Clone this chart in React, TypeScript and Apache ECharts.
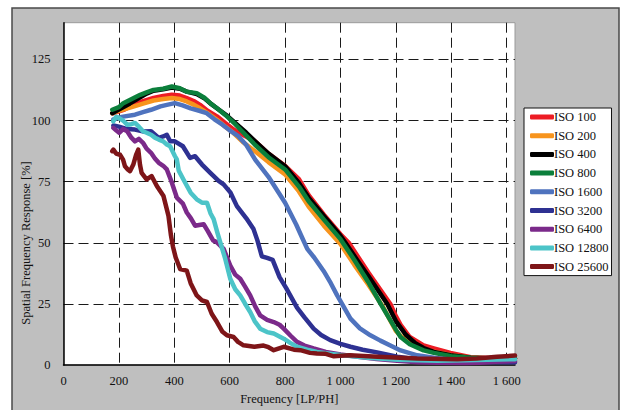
import React, { useEffect, useRef } from "react";
import * as echarts from "echarts";

const seriesNames = ["ISO 100", "ISO 200", "ISO 400", "ISO 800", "ISO 1600", "ISO 3200", "ISO 6400", "ISO 12800", "ISO 25600"];
const seriesColors = ["#ED1C24", "#F7941D", "#000000", "#0B7F3B", "#4F73BE", "#2E3192", "#7B2A8A", "#4CC4C8", "#7E1518"];

const iso100 = [[180,103],[220,104.5],[252,106.4],[290,108],[325,109.2],[360,110],[391,110.5],[420,110.2],[445,109.2],[470,108],[493,106.4],[520,104],[554,101.7],[584,99],[614,96.3],[650,94],[692,91.5],[740,86.5],[800,81.5],[850,76],[885,69.5],[940,61.5],[1000,53.5],[1030,50],[1100,38],[1180,25],[1200,20],[1217,16.5],[1250,11.5],[1300,8],[1337,6.8],[1397,5],[1470,3.2],[1550,2.8],[1630,2.8]];
const iso200 = [[176,103],[200,104],[252,105.7],[290,107],[325,108.2],[360,108.8],[391,109.2],[420,108.8],[445,107.8],[470,106.5],[493,105],[520,103],[554,100.3],[584,97.5],[614,94.9],[650,91],[692,87.4],[740,83],[800,78],[850,71],[885,64.8],[940,57],[1000,49.5],[1050,41],[1100,33],[1150,24.5],[1200,14],[1217,12],[1250,9],[1300,6.5],[1337,5.5],[1400,4],[1470,3],[1550,2.7],[1630,2.7]];
const iso400 = [[176,103],[200,104.5],[240,107],[277,109.5],[300,111],[325,112.2],[360,112.8],[391,113.5],[420,113],[445,111.8],[481,110.8],[510,109],[530,107],[560,104.5],[590,102],[630,98],[660,95],[692,91.5],[740,86.5],[800,81.3],[850,74.5],[885,68.5],[940,61],[1000,52.9],[1018,50],[1060,43],[1100,36.5],[1169,25],[1200,18],[1235,12.5],[1270,9],[1300,7],[1337,5.4],[1397,4],[1470,3],[1550,2.7],[1630,2.7]];
const iso800 = [[176,104.4],[200,105.5],[216,107.1],[250,109],[277,110.5],[300,111.5],[325,112.5],[360,113],[391,113.9],[420,113.2],[445,111.8],[481,111.2],[510,109.2],[530,107.1],[560,104.5],[590,101.7],[620,98.5],[650,95],[692,90],[740,85],[800,80],[850,73],[885,67],[940,59.5],[1000,51.5],[1050,43],[1100,34],[1145,25],[1200,14.5],[1217,11.5],[1250,8.5],[1300,6],[1337,5],[1400,3.6],[1470,3],[1550,2.7],[1630,2.7]];
const iso1600 = [[180,100.5],[210,101.5],[258,102.4],[290,103.5],[316,104.4],[350,105.8],[373,106.4],[402,107.1],[430,106.2],[459,105],[490,104],[517,103],[545,100.5],[574,98.3],[600,96],[631,93.6],[660,90],[692,84],[740,77],[800,66.4],[840,57.5],[860,52.5],[880,47.5],[905,44],[939,38.5],[965,33.5],[988,28.5],[1036,19],[1070,15],[1108,12.2],[1144,10],[1180,8],[1217,6],[1277,4],[1337,3],[1400,2.2],[1492,1.5],[1630,1.4]];
const iso3200 = [[180,98],[200,97.5],[230,96.5],[258,96.3],[290,95.5],[316,95.6],[344,92.9],[360,93.5],[373,94.2],[385,91.5],[402,91.5],[431,89.5],[457,84.7],[475,85.4],[500,82],[530,78.6],[560,75.3],[578,73.9],[603,70.5],[626,65],[660,60],[686,55.6],[700,51],[716,44.5],[735,43.8],[755,43],[780,36],[804,31.5],[843,23.5],[870,19.5],[903,14.9],[930,12.3],[963,10.2],[1000,8.7],[1036,7.5],[1080,6.3],[1132,5.2],[1205,3.4],[1280,2.3],[1349,1.6],[1450,1.3],[1630,1.2]];
const iso6400 = [[180,97],[190,96],[201,95],[215,96.5],[230,95.6],[245,93],[258,91.5],[272,92.5],[287,90.9],[300,88.5],[316,86.8],[330,84.5],[344,82.7],[360,81.5],[373,80],[390,75],[409,68.5],[431,66],[445,62.4],[460,60],[475,57],[490,57.3],[506,57.6],[520,55],[540,51],[554,50.2],[578,47.5],[602,40.7],[620,37],[638,35.3],[656,32],[674,28.5],[692,24],[710,20.3],[735,18.5],[759,17.6],[780,16.5],[795,14.9],[820,12],[843,9.5],[870,8],[903,6.8],[947,5.4],[1000,4.3],[1062,3.4],[1130,2.5],[1205,1.8],[1280,1.2],[1349,1],[1450,0.9],[1500,1],[1560,1.4],[1630,1.7]];
const iso12800 = [[180,99.7],[190,101.5],[201,101],[215,100],[230,98.3],[245,98.5],[258,99],[272,97.5],[287,95.6],[300,95],[316,94.2],[330,93],[344,92.2],[360,91.5],[373,90.2],[385,89.5],[402,85.5],[409,84.1],[416,79.5],[433,75.9],[459,70.5],[481,67.8],[500,66.4],[518,66.4],[531,62],[542,59.7],[556,54],[566,50.2],[584,43.4],[602,35.3],[620,31],[638,28.5],[656,25],[674,21.7],[690,18],[710,14.9],[735,13.5],[759,12.9],[795,10.8],[820,9],[843,7.5],[880,6.3],[915,5.4],[960,4.7],[1000,4.1],[1100,3],[1205,2.2],[1349,1.8],[1450,2],[1630,2.4]];
const iso25600 = [[176,87.5],[180,88.1],[190,86.5],[204,86],[215,84],[222,81.3],[232,80],[240,79.3],[252,82],[262,86],[270,88.1],[276,82],[282,78.6],[300,75.9],[318,77.3],[337,73.2],[361,69.1],[379,61],[388,53],[395,48.5],[405,44],[421,39.3],[445,38.6],[459,33.5],[481,28.5],[500,26.5],[518,25.8],[535,21],[554,17.6],[574,13.6],[590,12.2],[614,11.5],[630,9.5],[650,8.1],[689,7.5],[722,8],[740,7.3],[759,6.1],[795,7.5],[832,6.3],[855,6.1],[890,5],[915,4.7],[947,4.6],[976,3.6],[1000,3.8],[1033,4],[1134,3.4],[1277,2.7],[1421,2.4],[1492,2.7],[1565,3.4],[1630,3.9]];

const seriesData = [iso100, iso200, iso400, iso800, iso1600, iso3200, iso6400, iso12800, iso25600];

const xMin = 0;
const xMax = 1630;
const xInterval = 200;
const yMin = 0;
const yMax = 140;
const yInterval = 25;

const xTitle = "Frequency [LP/PH]";
const yTitle = "Spatial Frequency Response [%]";

const FONT = "'Liberation Serif', 'DejaVu Serif', serif";
const TEXT_COLOR = "#111";

function fmtThousands(v: number): string {
  const s = String(Math.round(v));
  return s.replace(/\B(?=(\d{3})+(?!\d))/g, " ");
}

export default function App() {
  const ref = useRef<HTMLDivElement>(null);
  useEffect(() => {
    if (!ref.current) return;
    const chart = echarts.init(ref.current, undefined, { renderer: "svg" });
    const dashed = { type: [10, 5] as any, color: "#1a1a1a", width: 1 };
    chart.setOption({
      animation: false,
      backgroundColor: "#ffffff",
      textStyle: { fontFamily: FONT },
      graphic: [
        {
          type: "rect",
          z: -10,
          shape: { x: 12, y: 8, width: 607, height: 410 },
          style: { fill: "#bfbfbf", stroke: "#4a4a4a", lineWidth: 1.5 },
        },
        {
          type: "text",
          x: 26,
          y: 243,
          rotation: Math.PI / 2,
          style: {
            text: yTitle,
            font: `12.5px ${FONT}`,
            fill: TEXT_COLOR,
            textAlign: "center",
            textVerticalAlign: "middle",
          },
        },
      ],
      grid: {
        left: 63.5,
        top: 22.7,
        right: 105,
        bottom: 43.3,
        show: true,
        backgroundColor: "#ffffff",
        borderColor: "#9a9a9a",
        borderWidth: 1,
      },
      legend: {
        orient: "vertical",
        left: 524,
        top: 108,
        data: seriesNames,
        icon: "roundRect",
        itemWidth: 24,
        itemHeight: 5,
        itemGap: 4.7,
        padding: [2, 3, 2, 6],
        backgroundColor: "#ffffff",
        borderColor: "#111",
        borderWidth: 1,
        textStyle: { fontFamily: FONT, fontSize: 12.5, color: TEXT_COLOR, lineHeight: 14, padding: [0, 0, 0, -5] },
      },
      xAxis: {
        type: "value",
        min: xMin,
        max: xMax,
        interval: xInterval,
        name: xTitle,
        nameLocation: "middle",
        nameGap: 25,
        nameTextStyle: { fontFamily: FONT, fontSize: 12.5, color: TEXT_COLOR },
        axisLine: { show: true, lineStyle: { color: "#000", width: 1.5 } },
        axisTick: { show: false },
        axisLabel: {
          margin: 9,
          fontFamily: FONT,
          fontSize: 12.5,
          color: TEXT_COLOR,
          showMaxLabel: false,
          formatter: (v: number) => fmtThousands(v),
        },
        splitLine: { show: true, showMinLine: false, showMaxLine: false, lineStyle: dashed },
      },
      yAxis: {
        type: "value",
        min: yMin,
        max: yMax,
        interval: yInterval,
        axisLine: { show: true, lineStyle: { color: "#000", width: 1.5 } },
        axisTick: { show: false },
        axisLabel: {
          margin: 13,
          fontFamily: FONT,
          fontSize: 12.5,
          color: TEXT_COLOR,
          showMaxLabel: false,
        },
        splitLine: { show: true, showMinLine: false, showMaxLine: false, lineStyle: dashed },
      },
      series: seriesNames.map((name, i) => ({
        name,
        type: "line",
        data: seriesData[i],
        showSymbol: false,
        symbol: "none",
        color: seriesColors[i],
        lineStyle: { width: 4.5, color: seriesColors[i], join: "round", cap: "round" },
        itemStyle: { color: seriesColors[i] },
      })),
    });
    return () => chart.dispose();
  }, []);
  return (
    <div
      ref={ref}
      style={{ position: "fixed", left: 0, top: 0, width: 620, height: 410 }}
    />
  );
}
